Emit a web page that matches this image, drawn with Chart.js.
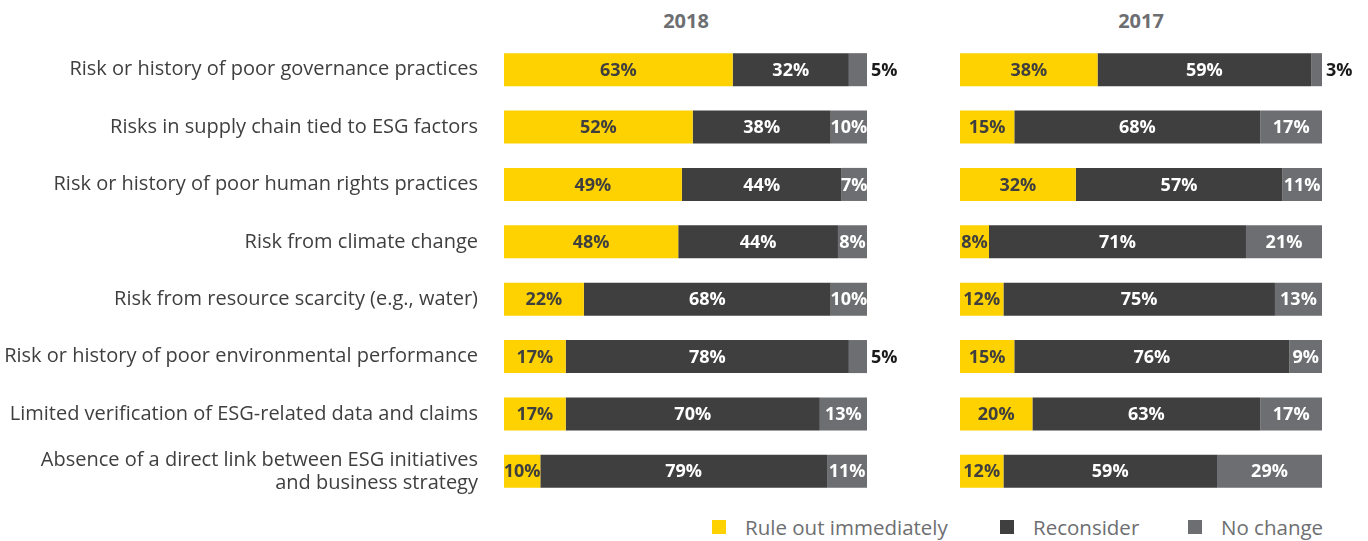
<!DOCTYPE html>
<html>
<head>
<meta charset="utf-8">
<script src="https://cdn.jsdelivr.net/npm/chart.js"></script>
<style>
  body { margin: 0; background: #fff; width: 1368px; height: 541px; position: relative; overflow: hidden; font-family: "Open Sans", sans-serif; }
  .year { position: absolute; top: 7px; width: 200px; text-align: center; font-weight: bold; font-size: 20px; color: #6d6e71; }
  canvas { position: absolute; }
  #legend { position: absolute; top: 513px; left: 0; width: 1368px; height: 28px; }
  .item { position: absolute; top: 0; font-size: 20.5px; color: #6d6e71; white-space: nowrap; }
  .box { position: absolute; top: 7px; width: 14px; height: 14px; }
</style>
</head>
<body>
<div class="year" style="left:586px">2018</div>
<div class="year" style="left:1041px">2017</div>
<canvas id="c2018" width="900" height="459" style="left:0;top:41px"></canvas>
<canvas id="c2017" width="428" height="459" style="left:940px;top:41px"></canvas>
<div id="legend"></div>
<script>
const categories = [
  "Risk or history of poor governance practices",
  "Risks in supply chain tied to ESG factors",
  "Risk or history of poor human rights practices",
  "Risk from climate change",
  "Risk from resource scarcity (e.g., water)",
  "Risk or history of poor environmental performance",
  "Limited verification of ESG-related data and claims",
  ["Absence of a direct link between ESG initiatives", "and business strategy"]
];
const seriesNames = ["Rule out immediately", "Reconsider", "No change"];
const seriesColors = ["#fed200", "#3f3f3f", "#6d6e71"];
const labelColors = ["#3f3f3f", "#ffffff", "#ffffff"];

const ruleOut2018 = [63, 52, 49, 48, 22, 17, 17, 10];
const reconsider2018 = [32, 38, 44, 44, 68, 78, 70, 79];
const noChange2018 = [5, 10, 7, 8, 10, 5, 13, 11];

const ruleOut2017 = [38, 15, 32, 8, 12, 15, 20, 12];
const reconsider2017 = [59, 68, 57, 71, 75, 76, 63, 59];
const noChange2017 = [3, 17, 11, 21, 13, 9, 17, 29];

const FONT = "'Open Sans', sans-serif";

const valueLabels = {
  id: "valueLabels",
  afterDatasetsDraw(chart) {
    const ctx = chart.ctx;
    ctx.save();
    ctx.font = "bold 18px " + FONT;
    ctx.textBaseline = "middle";
    chart.data.datasets.forEach((ds, di) => {
      const meta = chart.getDatasetMeta(di);
      meta.data.forEach((bar, i) => {
        const v = ds.data[i];
        const left = Math.min(bar.x, bar.base);
        const right = Math.max(bar.x, bar.base);
        if (v <= 5) {
          ctx.fillStyle = "#1a1a1a";
          ctx.textAlign = "left";
          ctx.fillText(v + "%", right + 4, bar.y + 1);
        } else {
          ctx.fillStyle = labelColors[di];
          ctx.textAlign = "center";
          ctx.fillText(v + "%", (left + right) / 2, bar.y + 1);
        }
      });
    });
    ctx.restore();
  }
};

function makeChart(id, values, showLabels, padding) {
  return new Chart(document.getElementById(id), {
    type: "bar",
    data: {
      labels: categories,
      datasets: values.map((arr, k) => ({
        label: seriesNames[k],
        data: arr,
        backgroundColor: seriesColors[k],
        borderWidth: 0,
        categoryPercentage: 1,
        barPercentage: 0.576
      }))
    },
    options: {
      indexAxis: "y",
      responsive: false,
      animation: false,
      layout: { padding: padding },
      plugins: { legend: { display: false }, tooltip: { enabled: false } },
      scales: {
        x: { stacked: true, min: 0, max: 100, display: false },
        y: {
          stacked: true,
          display: showLabels,
          grid: { display: false, drawTicks: false },
          border: { display: false },
          ticks: { padding: 26, color: "#3f3f3f", font: { family: FONT, size: 20, lineHeight: 1.15 } },
          afterFit(scale) {
            if (!showLabels) return;
            scale.width = 504;
            scale.paddingTop = 0;
            scale.paddingBottom = 0;
          }
        }
      }
    },
    plugins: [valueLabels]
  });
}

makeChart("c2018", [ruleOut2018, reconsider2018, noChange2018], true, { left: 0, right: 33, top: 0, bottom: 0 });
makeChart("c2017", [ruleOut2017, reconsider2017, noChange2017], false, { left: 20, right: 46, top: 0, bottom: 0 });

// legend
const legendPos = [712, 1000, 1188];
const legend = document.getElementById("legend");
seriesNames.forEach((name, k) => {
  const box = document.createElement("div");
  box.className = "box";
  box.style.left = legendPos[k] + "px";
  box.style.background = seriesColors[k];
  legend.appendChild(box);
  const t = document.createElement("div");
  t.className = "item";
  t.style.left = (legendPos[k] + 33) + "px";
  t.textContent = name;
  legend.appendChild(t);
});
</script>
</body>
</html>
